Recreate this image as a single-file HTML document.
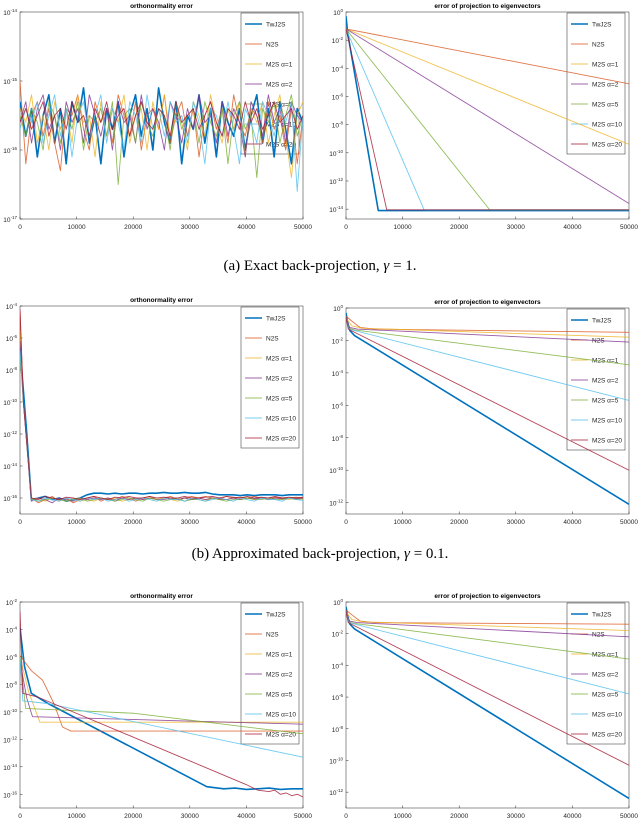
<!DOCTYPE html>
<html><head><meta charset="utf-8">
<style>
html,body{margin:0;padding:0;background:#fff;}
svg{display:block;font-family:"Liberation Sans",sans-serif;}
.cap{font-family:"Liberation Serif",serif;font-size:15px;fill:#000;}
</style></head>
<body>
<svg id="fig" width="640" height="819" viewBox="0 0 640 819">
<text class="cap" x="320" y="270" text-anchor="middle">(a) Exact back-projection, <tspan font-style="italic">γ</tspan> = 1.</text>
<text class="cap" x="320" y="558" text-anchor="middle">(b) Approximated back-projection, <tspan font-style="italic">γ</tspan> = 0.1.</text>
</svg>
<script>
// ---- shared data ----
const seriesNames = ["TwJ2S","N2S","M2S α=1","M2S α=2","M2S α=5","M2S α=10","M2S α=20"];
const seriesColors = ["#0072BD","#D95319","#EDB120","#7E2F8E","#77AC30","#4DBEEE","#A2142F"];
const xTicks = [0,10000,20000,30000,40000,50000];

// ---- panel 1: exact, orthonormality error (log10 values, evenly spaced over 0..50000) ----
const p1TwJ2S = [-15.3,-15.8,-15.4,-16.1,-15.5,-15.2,-15.9,-15.4,-16.2,-15.3,-15.6,-15.1,-15.9,-15.5,-16.2,-15.4,-15.7,-15.3,-16.1,-15.5,-15.2,-15.8,-15.4,-16.0,-15.1,-15.6,-15.9,-15.3,-16.2,-15.5,-15.7,-15.2,-15.9,-15.4,-16.1,-15.3,-15.6,-15.8,-15.4,-16.0,-15.5,-15.2,-15.9,-15.4,-16.1,-15.3,-15.7,-16.2,-15.4,-15.6];
const p1N2S = [-15.0,-16.2,-15.5,-15.3,-15.8,-15.4,-15.9,-16.3,-15.4,-15.5,-15.2,-15.7,-16.0,-15.3,-15.6,-15.4,-15.9,-15.2,-15.5,-15.8,-15.3,-16.0,-15.5,-15.4,-15.7,-15.2,-15.9,-15.5,-15.3,-15.8,-15.4,-16.1,-15.5,-15.3,-15.7,-15.4,-15.9,-15.2,-15.6,-15.8,-15.4,-15.5,-15.9,-15.3,-15.7,-15.5,-16.0,-15.4,-16.2,-15.5];
const p1M2S1 = [-15.4,-15.6,-15.2,-15.9,-15.5,-16.0,-15.3,-15.7,-15.4,-15.9,-15.2,-15.6,-15.5,-16.1,-15.3,-15.8,-15.4,-15.6,-15.2,-15.9,-15.5,-15.4,-16.0,-15.3,-15.7,-15.2,-15.8,-15.5,-15.6,-16.0,-15.3,-15.5,-15.8,-15.2,-15.6,-15.9,-15.4,-15.7,-15.3,-16.1,-15.4,-15.6,-15.3,-15.9,-15.5,-15.2,-15.8,-16.4,-15.5,-15.3];
const p1M2S2 = [-15.6,-15.3,-15.9,-15.4,-15.2,-15.7,-15.5,-16.0,-15.3,-15.6,-15.4,-15.9,-15.2,-15.5,-15.8,-15.4,-16.0,-15.3,-15.6,-15.5,-15.9,-15.2,-15.7,-15.4,-15.6,-16.0,-15.3,-15.5,-15.9,-15.4,-15.7,-15.2,-15.6,-15.5,-15.9,-15.3,-15.8,-15.4,-15.6,-16.1,-15.3,-15.5,-15.8,-15.2,-15.6,-15.4,-15.9,-15.3,-15.5,-15.6];
const p1M2S5 = [-15.5,-15.8,-15.4,-15.6,-16.0,-15.3,-15.5,-15.9,-15.4,-15.7,-15.3,-16.0,-15.5,-15.6,-15.4,-15.8,-15.3,-16.5,-15.5,-15.4,-15.9,-15.3,-15.6,-15.8,-15.4,-15.5,-16.0,-15.3,-15.7,-15.5,-15.4,-15.9,-15.3,-15.6,-15.8,-15.4,-16.2,-15.5,-15.3,-15.7,-15.5,-16.4,-15.4,-15.6,-15.3,-15.9,-15.5,-15.2,-15.8,-15.5];
const p1M2S10 = [-15.7,-15.4,-15.6,-15.3,-15.9,-15.5,-15.2,-15.8,-15.4,-16.1,-15.5,-15.3,-15.8,-15.5,-15.2,-15.9,-15.4,-15.6,-16.0,-15.3,-15.5,-15.9,-15.2,-15.7,-15.4,-15.8,-15.3,-15.6,-15.5,-15.9,-15.3,-15.6,-16.2,-15.4,-15.5,-15.8,-15.3,-15.7,-16.2,-15.4,-15.6,-15.9,-15.3,-15.5,-15.8,-15.4,-15.6,-15.3,-16.6,-15.5];
const p1M2S20 = [-15.6,-15.4,-15.7,-15.5,-15.3,-15.8,-15.5,-15.4,-15.7,-15.3,-15.6,-15.5,-15.8,-15.4,-15.6,-15.3,-15.7,-15.5,-15.4,-15.8,-15.5,-15.3,-15.6,-15.7,-15.4,-15.5,-15.8,-15.3,-15.6,-15.5,-15.4,-15.7,-15.5,-15.3,-15.6,-15.8,-15.4,-15.5,-15.7,-15.3,-15.6,-15.4,-15.7,-15.5,-15.3,-15.6,-15.5,-15.4,-15.7,-15.5];

// ---- panel 2: exact, projection error ([iteration, log10] breakpoints) ----
const p2TwJ2S = [[0,-0.3],[300,-1.5],[5700,-14.1],[50000,-14.1]];
const p2N2S = [[0,-1.2],[50000,-5.1]];
const p2M2S1 = [[0,-1.2],[50000,-9.4]];
const p2M2S2 = [[0,-1.2],[50000,-13.6]];
const p2M2S5 = [[0,-1.2],[25400,-14.05],[50000,-14.05]];
const p2M2S10 = [[0,-1.2],[13800,-14.05],[50000,-14.05]];
const p2M2S20 = [[0,-1.2],[7200,-14.05],[50000,-14.05]];

// ---- panel 3: approximated, orthonormality error ----
const p3Head = [[0,-6.5],[600,-10],[2000,-16]];
const p3TwJ2SHead = [[0,-6.6],[1200,-12],[2000,-16.1]];
const p3SpikeStart = [-6.6,-4.3,-5.5,-6.2,-7.0,-6.8,-4.2];
const p3TwJ2S = [-16.1,-16.0,-15.9,-16.1,-16.0,-16.2,-16.1,-16.0,-15.8,-15.7,-15.7,-15.75,-15.7,-15.75,-15.7,-15.7,-15.75,-15.7,-15.7,-15.65,-15.7,-15.7,-15.65,-15.7,-15.7,-15.65,-15.75,-15.8,-15.8,-15.8,-15.85,-15.8,-15.85,-15.8,-15.8,-15.8,-15.85,-15.8,-15.8,-15.8];
const p3N2S = [-16.0,-16.3,-16.1,-15.9,-16.2,-16.0,-16.3,-16.1,-16.0,-15.9,-16.2,-16.0,-16.1,-15.9,-16.0,-16.2,-16.0,-15.9,-16.1,-16.0,-15.9,-16.1,-16.0,-15.9,-16.0,-15.9,-16.0,-16.1,-15.9,-16.0,-15.95,-16.0,-15.9,-16.0,-16.0,-15.95,-16.0,-16.0,-15.95,-16.0];
const p3M2S1 = [-16.1,-16.0,-16.2,-16.0,-16.1,-16.2,-16.0,-16.2,-16.1,-16.2,-16.0,-16.1,-16.0,-16.2,-16.1,-16.0,-16.1,-16.0,-16.1,-16.0,-16.1,-16.2,-16.0,-16.1,-16.0,-16.1,-16.0,-16.1,-16.1,-16.0,-16.1,-16.0,-16.1,-16.0,-16.1,-16.0,-16.05,-16.1,-16.0,-16.05];
const p3M2S2 = [-16.2,-16.0,-16.1,-16.3,-16.0,-16.1,-16.2,-16.0,-16.1,-16.0,-16.1,-16.0,-16.2,-16.0,-16.1,-16.0,-16.1,-16.0,-16.1,-16.1,-16.0,-16.1,-16.0,-16.1,-16.0,-16.1,-16.0,-16.05,-16.1,-16.0,-16.1,-16.0,-16.05,-16.0,-16.1,-16.0,-16.05,-16.0,-16.05,-16.0];
const p3M2S5 = [-16.0,-16.2,-16.1,-16.0,-16.1,-16.2,-16.1,-16.0,-16.2,-16.1,-16.0,-16.1,-16.2,-16.1,-16.0,-16.1,-16.2,-16.0,-16.1,-16.2,-16.1,-16.0,-16.2,-16.1,-16.1,-16.2,-16.0,-16.1,-16.2,-16.1,-16.1,-16.0,-16.1,-16.1,-16.0,-16.1,-16.1,-16.0,-16.1,-16.05];
const p3M2S10 = [-16.1,-16.2,-16.0,-16.1,-16.2,-16.0,-16.1,-16.2,-16.0,-16.1,-16.0,-16.2,-16.1,-16.0,-16.2,-16.1,-16.0,-16.1,-16.2,-16.0,-16.1,-16.1,-16.2,-16.0,-16.1,-16.2,-16.1,-16.0,-16.1,-16.2,-16.0,-16.1,-16.2,-16.0,-16.1,-16.1,-16.2,-16.0,-16.1,-16.15];
const p3M2S20 = [-16.0,-16.1,-15.9,-16.0,-16.1,-15.95,-16.0,-16.1,-16.0,-15.9,-16.0,-16.1,-15.95,-16.0,-15.9,-16.0,-16.0,-15.9,-16.0,-15.95,-16.0,-16.0,-15.9,-16.0,-16.0,-15.95,-15.9,-16.0,-15.9,-15.95,-16.0,-15.9,-16.0,-15.95,-16.0,-15.9,-16.0,-15.95,-16.0,-15.95];

// ---- panel 4: approximated, projection error ----
const p4TwJ2S = [[0,-0.3],[300,-0.9],[700,-1.4],[1500,-1.7],[50000,-12.1]];
const p4N2S = [[0,-0.5],[1000,-0.8],[2500,-1.2],[5000,-1.3],[50000,-1.5]];
const p4M2S1 = [[0,-0.6],[1000,-1.1],[3000,-1.25],[50000,-1.8]];
const p4M2S2 = [[0,-0.6],[600,-1.2],[2000,-1.3],[50000,-2.1]];
const p4M2S5 = [[0,-0.6],[500,-1.25],[1500,-1.35],[50000,-3.5]];
const p4M2S10 = [[0,-0.6],[500,-1.3],[50000,-5.7]];
const p4M2S20 = [[0,-0.6],[400,-1.3],[50000,-10.0]];

// ---- panel 5: approximated (gamma=0.1), orthonormality error ----
const p5TwJ2S = [[0,-3.9],[800,-6.7],[2000,-8.65],[5000,-9.4],[33000,-15.45],[36000,-15.6],[38000,-15.55],[40000,-15.65],[42000,-15.6],[44000,-15.55],[46000,-15.65],[48000,-15.6],[50000,-15.6]];
const p5N2S = [[0,-5.9],[2000,-7.0],[4000,-7.7],[6000,-9.4],[7500,-11.1],[9000,-11.4],[50000,-11.4]];
const p5M2S1 = [[0,-6.0],[1500,-8.5],[3500,-10.75],[50000,-10.75]];
const p5M2S2 = [[0,-6.3],[1200,-9.0],[2200,-10.35],[50000,-10.9]];
const p5M2S5 = [[0,-6.0],[1000,-9.75],[20000,-10.1],[50000,-11.6]];
const p5M2S10 = [[0,-6.0],[500,-9.2],[5000,-9.4],[50000,-13.3]];
const p5M2S20 = [[0,-2.7],[500,-8.65],[3000,-8.9],[40000,-15.3],[42000,-15.7],[44000,-15.8],[45000,-15.7],[46000,-16.0],[47000,-15.9],[48000,-16.1],[49000,-16.0],[50000,-16.2]];

// ---- panel 6: approximated (gamma=0.1), projection error ----
const p6TwJ2S = [[0,-0.3],[300,-0.9],[700,-1.4],[1500,-1.7],[50000,-12.4]];
const p6N2S = [[0,-0.5],[1000,-0.8],[2500,-1.2],[5000,-1.3],[50000,-1.4]];
const p6M2S1 = [[0,-0.6],[1000,-1.1],[3000,-1.25],[50000,-1.8]];
const p6M2S2 = [[0,-0.6],[600,-1.2],[2000,-1.3],[50000,-2.2]];
const p6M2S5 = [[0,-0.6],[500,-1.25],[1500,-1.35],[50000,-3.6]];
const p6M2S10 = [[0,-0.6],[500,-1.3],[50000,-5.8]];
const p6M2S20 = [[0,-0.6],[400,-1.3],[50000,-10.3]];

const NS = "http://www.w3.org/2000/svg";
const svg = document.getElementById("fig");
function mk(tag, attrs, parent){ const e=document.createElementNS(NS,tag); for(const k in attrs) e.setAttribute(k,attrs[k]); (parent||svg).appendChild(e); return e; }

function noiseToPairs(arr, x0, x1){ const n=arr.length; return arr.map((v,i)=>[x0+(x1-x0)*i/(n-1), v]); }

function drawPanel(cfg){
  const g = mk("g",{});
  
  
  const X = v => cfg.l + (cfg.r-cfg.l)*v/50000;
  const Y = v => cfg.t + (cfg.b-cfg.t)*(cfg.ymax - v)/(cfg.ymax - cfg.ymin);
  const fr = mk("rect",{x:cfg.l,y:cfg.t,width:cfg.r-cfg.l,height:cfg.b-cfg.t,fill:"#fff",stroke:"#262626","stroke-width":0.5},g);
  
  
  const ttl = mk("text",{x:(cfg.l+cfg.r)/2,y:cfg.t-4,"text-anchor":"middle","font-size":6.5,"font-weight":"bold",fill:"#000"},g);
  ttl.textContent = cfg.title;
  
  
  xTicks.forEach(v=>{
    mk("line",{x1:X(v),x2:X(v),y1:cfg.b,y2:cfg.b-2.5,stroke:"#262626","stroke-width":0.5},g);
    const t = mk("text",{x:X(v),y:cfg.b+10,"text-anchor":"middle","font-size":6.5,fill:"#262626"},g);
    t.textContent = v;
    
    
  });
  cfg.yticks.forEach(e=>{
    mk("line",{x1:cfg.l,x2:cfg.l+2.5,y1:Y(e),y2:Y(e),stroke:"#262626","stroke-width":0.5},g);
    const t = mk("text",{x:cfg.l-3,y:Y(e)+3,"text-anchor":"end","font-size":6.5,fill:"#262626"},g);
    
    
    const a = mk("tspan",{},t); a.textContent="10";
    const b = mk("tspan",{dy:-3,"font-size":4.5},t); b.textContent = e;
  });
  // legend box (under lines)
  const lg = mk("g",{},g);
  
  
  mk("rect",{x:cfg.lx,y:cfg.t+1,width:58,height:141,fill:"#fff",stroke:"#262626","stroke-width":0.5},lg);
  seriesNames.forEach((nm,i)=>{
    const yy = cfg.t+12+i*20;
    const ent = mk("g",{},lg);
    
    
    mk("line",{x1:cfg.lx+4,x2:cfg.lx+21,y1:yy,y2:yy,stroke:seriesColors[i],"stroke-width":i===0?1.6:1,"stroke-opacity":i===0?1:0.75},ent);
    const t = mk("text",{x:cfg.lx+25,y:yy+2.3,"font-size":6.5,fill:"#262626"},ent);
    t.textContent = nm;
  });
  const clip = "clip"+cfg.name;
  const cp = mk("clipPath",{id:clip},g);
  mk("rect",{x:cfg.l,y:cfg.t,width:cfg.r-cfg.l,height:cfg.b-cfg.t},cp);
  cfg.series.forEach((pts,i)=>{
    const d = pts.map((p,j)=>(j?"L":"M")+X(p[0]).toFixed(2)+","+Y(p[1]).toFixed(2)).join("");
    const p = mk("path",{d:d,fill:"none",stroke:seriesColors[i],"stroke-width":i===0?1.6:0.9,"stroke-opacity":i===0?1:0.8,"clip-path":"url(#"+clip+")","stroke-linejoin":"round"},g);
    
    
  });
  // draw blue on top for panels where it's prominent
}

const p1Series = [p1TwJ2S,p1N2S,p1M2S1,p1M2S2,p1M2S5,p1M2S10,p1M2S20].map(a=>noiseToPairs(a,0,50000));
const p3Noise = [p3TwJ2S,p3N2S,p3M2S1,p3M2S2,p3M2S5,p3M2S10,p3M2S20];
const p3Series = p3Noise.map((a,i)=>[[0,p3SpikeStart[i]]].concat((i===0?p3TwJ2SHead:p3Head).slice(1,2)).concat(noiseToPairs(a,2000,50000)));

drawPanel({name:"panel-a-orthonormality",l:20,r:303,t:12,b:219,ymax:-14,ymin:-17,yticks:[-14,-15,-16,-17],title:"orthonormality error",lx:241,
  series:[p1Series[1],p1Series[2],p1Series[3],p1Series[4],p1Series[5],p1Series[6],p1Series[0]].map((s,k)=>s) && p1Series});
drawPanel({name:"panel-a-projection",l:346,r:629,t:12,b:219,ymax:0,ymin:-14.7,yticks:[0,-2,-4,-6,-8,-10,-12,-14],title:"error of projection to eigenvectors",lx:567,
  series:[p2TwJ2S,p2N2S,p2M2S1,p2M2S2,p2M2S5,p2M2S10,p2M2S20]});
drawPanel({name:"panel-b-orthonormality",l:20,r:303,t:306,b:514,ymax:-4,ymin:-17,yticks:[-4,-6,-8,-10,-12,-14,-16],title:"orthonormality error",lx:241,
  series:p3Series});
drawPanel({name:"panel-b-projection",l:346,r:629,t:308,b:514,ymax:0,ymin:-12.7,yticks:[0,-2,-4,-6,-8,-10,-12],title:"error of projection to eigenvectors",lx:567,
  series:[p4TwJ2S,p4N2S,p4M2S1,p4M2S2,p4M2S5,p4M2S10,p4M2S20]});
drawPanel({name:"panel-c-orthonormality",l:20,r:303,t:602,b:808,ymax:-2,ymin:-17,yticks:[-2,-4,-6,-8,-10,-12,-14,-16],title:"orthonormality error",lx:241,
  series:[p5TwJ2S,p5N2S,p5M2S1,p5M2S2,p5M2S5,p5M2S10,p5M2S20]});
drawPanel({name:"panel-c-projection",l:346,r:629,t:602,b:808,ymax:0,ymin:-13,yticks:[0,-2,-4,-6,-8,-10,-12],title:"error of projection to eigenvectors",lx:567,
  series:[p6TwJ2S,p6N2S,p6M2S1,p6M2S2,p6M2S5,p6M2S10,p6M2S20]});
</script>
</body></html>
